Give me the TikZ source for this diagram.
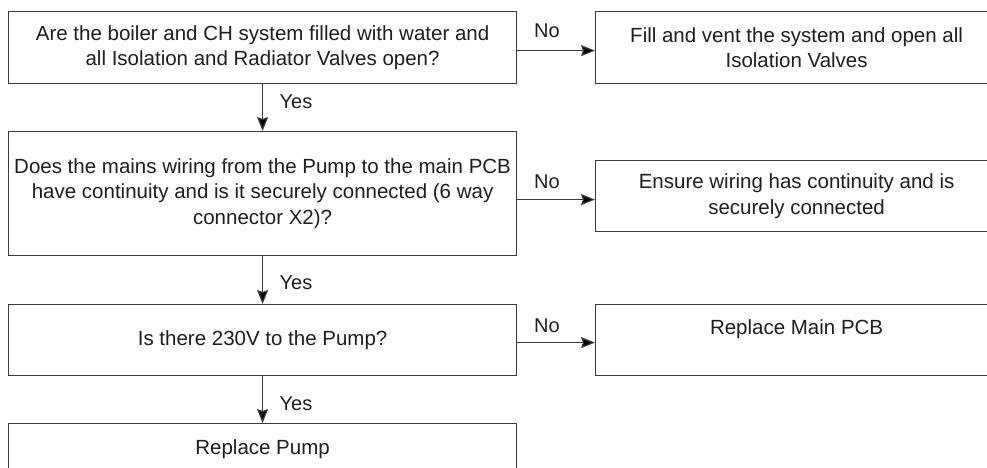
\documentclass[tikz,border=0pt]{standalone}
\usepackage{fontspec}
\setmainfont{Liberation Sans}
\usetikzlibrary{arrows.meta,calc}
\definecolor{linec}{HTML}{3A3A3A}
\definecolor{textc}{HTML}{1E1E1E}
\tikzset{
  box/.style={draw=linec, line width=1.2pt, fill=white, anchor=north west, inner sep=0pt,
    align=center, text=textc, font=\fontsize{20.5pt}{25.5pt}\selectfont},
  lbl/.style={text=textc, inner sep=0pt, font=\fontsize{20pt}{24pt}\selectfont},
  arr/.style={draw=linec, line width=1.2pt, -{Stealth[length=14pt,width=11pt,inset=2pt,fill=black]}}
}
\begin{document}
\begin{tikzpicture}[x=1pt,y=-1pt]
\useasboundingbox (0,0) rectangle (987,468);
\clip (0,0) rectangle (987,468);
\fill[white] (0,0) rectangle (987,468);

\node[box, minimum width=508pt, minimum height=72pt] (b1) at (8,11)
  {Are the boiler and CH system filled with water and\\all Isolation and Radiator Valves open?};
\node[box, minimum width=402pt, minimum height=72pt] (b2) at (595,11)
  {Fill and vent the system and open all\\Isolation Valves};
\node[box, minimum width=508pt, minimum height=124pt] (b3) at (8,131)
  {Does the mains wiring from the Pump to the main PCB\\have continuity and is it securely connected (6 way\\connector X2)?};
\node[box, minimum width=402pt, minimum height=71pt] (b4) at (595,160)
  {Ensure wiring has continuity and is\\securely connected};
\node[box, minimum width=508pt, minimum height=71pt] (b5) at (8,304)
  {Is there 230V to the Pump?};
\node[box, minimum width=402pt, minimum height=71pt] (b6) at (595,304)
  {Replace Main PCB\\\mbox{}};
\node[box, minimum width=508pt, minimum height=72pt] (b7) at (8,423)
  {Replace Pump\\\mbox{}};

% No arrows
\draw[arr] ([yshift=-3pt]b1.east) -- ([yshift=-3pt]b1.east -| b2.west);
\draw[arr] ([yshift=-6pt]b3.east) -- ([yshift=-6pt]b3.east -| b4.west);
\draw[arr] ([yshift=-2.5pt]b5.east) -- ([yshift=-2.5pt]b5.east -| b6.west);
\node[lbl] (n1) at (547,31) {No};
\node[lbl] (n2) at (547,182) {No};
\node[lbl] (n3) at (547,326) {No};

% Yes arrows
\draw[arr] (b1.south) -- (b3.north);
\draw[arr] (b3.south) -- (b5.north);
\draw[arr] (b5.south) -- (b7.north);
\node[lbl] (y1) at (296,102) {Yes};
\node[lbl] (y2) at (296,283) {Yes};
\node[lbl] (y3) at (296,404) {Yes};
\end{tikzpicture}
\end{document}
